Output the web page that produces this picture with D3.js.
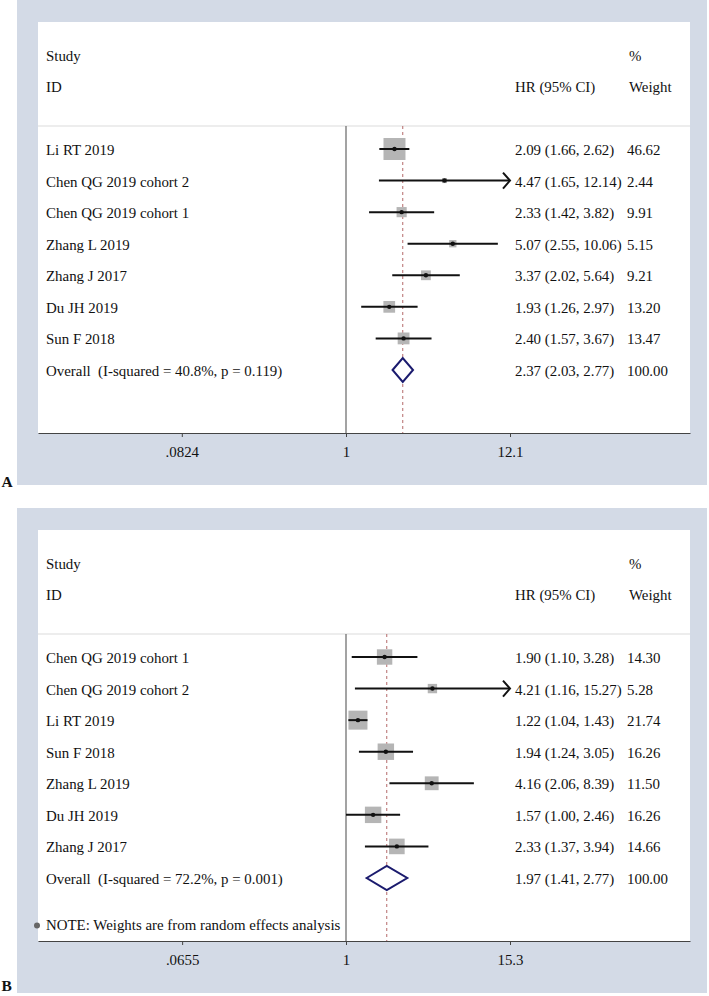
<!DOCTYPE html>
<html><head><meta charset="utf-8">
<script src="https://cdn.jsdelivr.net/npm/d3@7"></script>
<style>
body{margin:0;background:#fff}
text{font-family:"Liberation Serif","Times New Roman",serif;fill:#111;white-space:pre}
</style>
</head><body><svg id="chart" width="709" height="996"></svg>
<script>
// ---------- Panel A data ----------
const studiesA = ["Li RT 2019","Chen QG 2019 cohort 2","Chen QG 2019 cohort 1","Zhang L 2019","Zhang J 2017","Du JH 2019","Sun F 2018"];
const hrA     = [2.09, 4.47, 2.33, 5.07, 3.37, 1.93, 2.40];
const lowerA  = [1.66, 1.65, 1.42, 2.55, 2.02, 1.26, 1.57];
const upperA  = [2.62, 12.14, 3.82, 10.06, 5.64, 2.97, 3.67];
const weightA = [46.62, 2.44, 9.91, 5.15, 9.21, 13.20, 13.47];
const overallLabelA = "Overall  (I-squared = 40.8%, p = 0.119)";
const overallA = [2.37, 2.03, 2.77, 100.00]; // hr, lower, upper, weight
const ticksA = [0.0824, 1, 12.1];
const tickLabelsA = [".0824", "1", "12.1"];

// ---------- Panel B data ----------
const studiesB = ["Chen QG 2019 cohort 1","Chen QG 2019 cohort 2","Li RT 2019","Sun F 2018","Zhang L 2019","Du JH 2019","Zhang J 2017"];
const hrB     = [1.90, 4.21, 1.22, 1.94, 4.16, 1.57, 2.33];
const lowerB  = [1.10, 1.16, 1.04, 1.24, 2.06, 1.00, 1.37];
const upperB  = [3.28, 15.27, 1.43, 3.05, 8.39, 2.46, 3.94];
const weightB = [14.30, 5.28, 21.74, 16.26, 11.50, 16.26, 14.66];
const overallLabelB = "Overall  (I-squared = 72.2%, p = 0.001)";
const overallB = [1.97, 1.41, 2.77, 100.00];
const ticksB = [0.0655, 1, 15.3];
const tickLabelsB = [".0655", "1", "15.3"];
const noteB = "NOTE: Weights are from random effects analysis";

const headers = {study: "Study", id: "ID", hr: "HR (95% CI)", pct: "%", weight: "Weight"};

const svg = d3.select("#chart");
const FS = 14.9;
const fmt = v => v.toFixed(2);

function panel(opt) {
  const T = opt.top;
  const g = svg.append("g").attr("transform", `translate(0,${T})`);
  const L = 38, R = 690, X1 = 346, XT = 510;
  g.append("rect").attr("x", 17).attr("y", 0).attr("width", 690).attr("height", 485).attr("fill", "#d3dae6");
  g.append("rect").attr("x", L).attr("y", 22).attr("width", R - L).attr("height", 411).attr("fill", "#fff");

  const tMax = d3.max(opt.ticks), tMin = d3.min(opt.ticks);
  const k = (XT - X1) / Math.log(tMax);
  const x = d3.scaleLog()
    .domain([Math.exp((L - X1) / k), Math.exp((R - X1) / k)])
    .range([L, R]);

  const sepY = 126, axisY = 433, row0 = 149, step = 31.57;
  const n = opt.studies.length;
  const rowY = i => row0 + i * step;

  const tx = (xx, yy, s) => g.append("text").attr("x", xx).attr("y", yy).attr("font-size", FS).text(s);
  tx(46, 61, headers.study);
  tx(46, 91.5, headers.id);
  tx(515, 91.5, headers.hr);
  tx(629, 61, headers.pct);
  tx(629, 91.5, headers.weight);

  g.append("line").attr("x1", L).attr("x2", R).attr("y1", sepY).attr("y2", sepY)
    .attr("stroke", "#dcdcdc").attr("stroke-width", 1.2);

  g.append("line").attr("x1", x(1)).attr("x2", x(1)).attr("y1", sepY).attr("y2", axisY)
    .attr("stroke", "#666").attr("stroke-width", 1.2);
  g.append("line").attr("x1", x(opt.overall[0])).attr("x2", x(opt.overall[0])).attr("y1", sepY).attr("y2", axisY)
    .attr("stroke", "#b46a6a").attr("stroke-width", 1).attr("stroke-dasharray", "3,3");

  const size = d3.scaleSqrt().domain([0, d3.max(opt.weight)]).range([0, opt.maxBox]);

  const data = opt.studies.map((s, i) => ({s, hr: opt.hr[i], lo: opt.lower[i], hi: opt.upper[i], w: opt.weight[i], y: rowY(i)}));

  g.selectAll("rect.box").data(data).enter().append("rect").attr("class", "box")
    .attr("x", d => x(d.hr) - size(d.w) / 2).attr("y", d => d.y - size(d.w) / 2)
    .attr("width", d => size(d.w)).attr("height", d => size(d.w)).attr("fill", "#b5b5b5");

  data.forEach(d => {
    const clipHi = d.hi >= tMax * 0.99, clipLo = d.lo <= tMin * 1.01;
    const x0 = x(clipLo ? tMin : d.lo), x1 = x(clipHi ? tMax : d.hi);
    g.append("line").attr("x1", x0).attr("x2", x1).attr("y1", d.y).attr("y2", d.y)
      .attr("stroke", "#111").attr("stroke-width", 2);
    if (clipHi) {
      g.append("path").attr("d", `M${x1 - 7},${d.y - 8}L${x1},${d.y}L${x1 - 7},${d.y + 8}`)
        .attr("fill", "none").attr("stroke", "#111").attr("stroke-width", 2);
    }
    if (clipLo) {
      g.append("path").attr("d", `M${x0 + 7},${d.y - 8}L${x0},${d.y}L${x0 + 7},${d.y + 8}`)
        .attr("fill", "none").attr("stroke", "#111").attr("stroke-width", 2);
    }
    g.append("circle").attr("cx", x(d.hr)).attr("cy", d.y).attr("r", 2.2).attr("fill", "#111");
  });

  const allRows = data.map(d => ({label: d.s, hr: d.hr, lo: d.lo, hi: d.hi, w: d.w, y: d.y}));
  allRows.push({label: opt.overallLabel, hr: opt.overall[0], lo: opt.overall[1], hi: opt.overall[2], w: opt.overall[3], y: rowY(n)});
  allRows.forEach(r => {
    tx(46, r.y + 6, r.label);
    const h = tx(515, r.y + 6, `${fmt(r.hr)} (${fmt(r.lo)}, ${fmt(r.hi)})`);
    const end = 515 + h.node().getComputedTextLength();
    tx(Math.max(627, end + 2), r.y + 6, fmt(r.w));
  });

  const oy = rowY(n), o = opt.overall;
  g.append("path")
    .attr("d", `M${x(o[1])},${oy}L${x(o[0])},${oy - 12}L${x(o[2])},${oy}L${x(o[0])},${oy + 12}Z`)
    .attr("fill", "#fff").attr("stroke", "#1b1b6e").attr("stroke-width", 2);

  if (opt.note) {
    g.append("circle").attr("cx", 37).attr("cy", 417.5).attr("r", 3).attr("fill", "#666");
    tx(46, 422, opt.note);
  }

  const axis = d3.axisBottom(x).tickValues(opt.ticks)
    .tickFormat((d, i) => opt.tickLabels[i]).tickSize(4).tickSizeOuter(0).tickPadding(9.3);
  const ag = g.append("g").attr("transform", `translate(0,${axisY})`).call(axis);
  ag.select(".domain").attr("stroke", "#444").attr("stroke-width", 1.2);
  ag.selectAll(".tick line").attr("stroke", "#444");
  ag.selectAll(".tick text").attr("font-size", FS).attr("fill", "#111")
    .attr("font-family", '"Liberation Serif","Times New Roman",serif');

  g.append("text").attr("x", 1.5).attr("y", opt.letterY).attr("font-size", 15.5).attr("font-weight", "bold").text(opt.letter);
}

panel({top: 0, letter: "A", letterY: 487, studies: studiesA, hr: hrA, lower: lowerA, upper: upperA, weight: weightA,
  overall: overallA, overallLabel: overallLabelA, ticks: ticksA, tickLabels: tickLabelsA, maxBox: 22});
panel({top: 508, letter: "B", letterY: 483, studies: studiesB, hr: hrB, lower: lowerB, upper: upperB, weight: weightB,
  overall: overallB, overallLabel: overallLabelB, ticks: ticksB, tickLabels: tickLabelsB, maxBox: 19, note: noteB});
</script>
</body></html>
